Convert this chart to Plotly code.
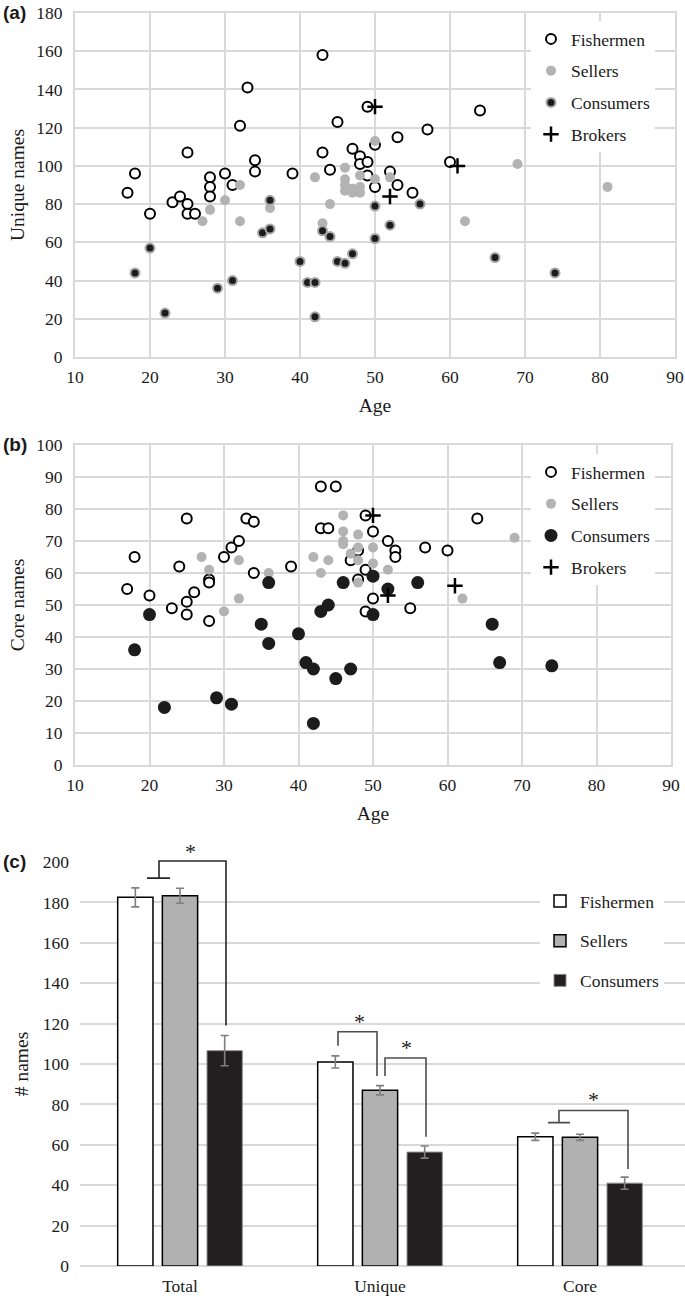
import plotly.graph_objects as go

W, H = 685, 1297

# ---------------- Panel (a): unique names vs age ----------------
fish_a_age = [17, 18, 20, 23, 24, 25, 25, 25, 26, 28, 28, 28, 30, 31, 32, 33, 34, 34, 39, 43,
              43, 44, 45, 47, 48, 48, 49, 49, 49, 50, 50, 52, 53, 53, 55, 57, 60, 64]
fish_a_val = [86, 96, 75, 81, 84, 107, 80, 75, 75, 94, 89, 84, 96, 90, 121, 141, 103, 97, 96, 158,
              107, 98, 123, 109, 105, 101, 102, 131, 95, 111, 89, 97, 115, 90, 86, 119, 102, 129]
sell_a_age = [27, 28, 30, 32, 32, 36, 42, 43, 44, 46, 46, 46, 46, 47, 47, 48, 48, 48, 50, 50,
              52, 62, 69, 81]
sell_a_val = [71, 77, 82, 90, 71, 78, 94, 70, 80, 99, 93, 90, 87, 88, 86, 95, 89, 86, 93, 113,
              94, 71, 101, 89]
cons_a_age = [18, 20, 22, 29, 31, 35, 36, 36, 40, 41, 42, 42, 43, 44, 45, 46, 47, 50, 50, 52,
              56, 66, 74]
cons_a_val = [44, 57, 23, 36, 40, 65, 67, 82, 50, 39, 39, 21, 66, 63, 50, 49, 54, 79, 62, 69,
              80, 52, 44]
brok_a_age = [50, 52, 61]
brok_a_val = [131, 84, 100]

# ---------------- Panel (b): core names vs age ----------------
fish_b_age = [17, 18, 20, 23, 24, 25, 25, 25, 26, 28, 28, 28, 30, 31, 32, 33, 34, 34, 39, 43,
              45, 43, 44, 47, 48, 48, 49, 49, 49, 50, 50, 52, 53, 53, 55, 57, 60, 64]
fish_b_val = [55, 65, 53, 49, 62, 77, 51, 47, 54, 58, 57, 45, 65, 68, 70, 77, 76, 60, 62, 87,
              87, 74, 74, 64, 67, 58, 78, 61, 48, 73, 52, 70, 67, 65, 49, 68, 67, 77]
sell_b_age = [27, 28, 30, 32, 32, 36, 42, 43, 44, 46, 46, 46, 46, 47, 48, 48, 48, 48, 50, 50,
              52, 62, 69]
sell_b_val = [65, 61, 48, 64, 52, 60, 65, 60, 64, 78, 73, 70, 69, 66, 72, 68, 64, 57, 68, 63,
              61, 52, 71]
cons_b_age = [18, 20, 22, 29, 31, 35, 36, 36, 40, 41, 42, 42, 43, 44, 45, 46, 47, 50, 50, 52,
              56, 66, 67, 74]
cons_b_val = [36, 47, 18, 21, 19, 44, 57, 38, 41, 32, 30, 13, 48, 50, 27, 57, 30, 59, 47, 55,
              57, 44, 32, 31]
brok_b_age = [50, 52, 61]
brok_b_val = [78, 53, 56]

# ---------------- Panel (c): mean number of names ----------------
bar_cats = ["Total", "Unique", "Core"]
fish_mean = [182.5, 101, 64]
fish_err = [4.7, 3, 1.8]
sell_mean = [183.3, 87, 63.7]
sell_err = [3.7, 2.3, 1.5]
cons_mean = [106.6, 56.4, 41]
cons_err = [7.5, 3, 3]

# significance brackets (x in category units, y in # names)
brackets = [
    [[(-0.165, 192), (-0.05, 192)], [(-0.105, 192), (-0.105, 200.5), (0.23, 200.5), (0.23, 119)]],
    [[(0.79, 109), (0.79, 116), (0.985, 116), (0.985, 94)]],
    [[(1.025, 94), (1.025, 103), (1.23, 103), (1.23, 64)]],
    [[(1.84, 71), (1.95, 71)], [(1.895, 71), (1.895, 77), (2.24, 77), (2.24, 48)]],
]
bracket_colors = ["#262626", "#4d4d4d", "#4d4d4d", "#4d4d4d"]
star_x = [0.05, 0.895, 1.13, 2.065]
star_y = [200, 116, 103, 77]   # tops of the brackets the stars sit on

SERIF = "Liberation Serif"
GRID = "#d9d9d9"
GRAY = "#b3b3b3"
DARK = "#1c1c1c"

fig = go.Figure()


def scatter_panel(xa, ya, leg, fa, fv, sa, sv, ca, cv, ba, bv, cons_marker):
    common = dict(mode="markers", xaxis=xa, yaxis=ya, legend=leg)
    fig.add_trace(go.Scatter(x=fa, y=fv, name="Fishermen", legendgroup=leg + "f",
                             marker=dict(symbol="circle", size=10, color="white",
                                         line=dict(color="black", width=2)), **common))
    fig.add_trace(go.Scatter(x=sa, y=sv, name="Sellers", legendgroup=leg + "s",
                             marker=dict(symbol="circle", size=10, color=GRAY,
                                         line=dict(width=0)), **common))
    fig.add_trace(go.Scatter(x=ca, y=cv, name="Consumers", legendgroup=leg + "c",
                             marker=cons_marker, **common))
    fig.add_trace(go.Scatter(x=ba, y=bv, name="Brokers", legendgroup=leg + "b",
                             marker=dict(symbol="cross-thin", size=11,
                                         line=dict(color="black", width=2.5)), **common))


scatter_panel("x", "y", "legend", fish_a_age, fish_a_val, sell_a_age, sell_a_val,
              cons_a_age, cons_a_val, brok_a_age, brok_a_val,
              dict(symbol="circle", size=9, color=DARK, line=dict(color="#a6a6a6", width=2)))
scatter_panel("x2", "y2", "legend2", fish_b_age, fish_b_val, sell_b_age, sell_b_val,
              cons_b_age, cons_b_val, brok_b_age, brok_b_val,
              dict(symbol="circle", size=13, color=DARK, line=dict(width=0)))

bar_x = list(range(len(bar_cats)))
err_style = dict(type="data", color="#7f7f7f", thickness=1.6, width=4)
fig.add_trace(go.Bar(x=bar_x, y=fish_mean, name="Fishermen", xaxis="x3", yaxis="y3",
                     legend="legend3", legendgroup="cf",
                     marker=dict(color="white", line=dict(color="black", width=1.5)),
                     error_y=dict(array=fish_err, **err_style)))
fig.add_trace(go.Bar(x=bar_x, y=sell_mean, name="Sellers", xaxis="x3", yaxis="y3",
                     legend="legend3", legendgroup="cs",
                     marker=dict(color="#b1b1b1", line=dict(color="black", width=1.5)),
                     error_y=dict(array=sell_err, **err_style)))
fig.add_trace(go.Bar(x=bar_x, y=cons_mean, name="Consumers", xaxis="x3", yaxis="y3",
                     legend="legend3", legendgroup="cc",
                     marker=dict(color="#231f20", line=dict(color="#8c8c8c", width=1)),
                     error_y=dict(array=cons_err, **err_style)))


def dom_x(a, b):
    return [a / W, b / W]


def dom_y(top, bot):
    return [1 - bot / H, 1 - top / H]


Y3MAX = 200
Y3DOM = dom_y(862, 1266)

shapes = []
for segs, col in zip(brackets, bracket_colors):
    path = ""
    for seg in segs:
        for i, (bx, by) in enumerate(seg):
            path += ("M" if i == 0 else "L") + f"{bx},{by / Y3MAX} "
    shapes.append(dict(type="path", path=path.strip(), xref="x3", yref="y3 domain",
                       line=dict(color=col, width=1.6), layer="above"))

annotations = []
for sx, sy in zip(star_x, star_y):
    annotations.append(dict(x=sx, y=sy, xref="x3", yref="y3", text="*",
                            showarrow=False, yanchor="bottom", yshift=-4,
                            font=dict(family=SERIF, size=22, color="#1a1a1a")))
for lbl, ypx in [("(a)", 13), ("(b)", 445), ("(c)", 862)]:
    annotations.append(dict(x=1 / W, y=1 - ypx / H, xref="paper", yref="paper", text="<b>" + lbl + "</b>",
                            showarrow=False, xanchor="left", yanchor="middle",
                            font=dict(family="Liberation Sans", size=19, color="#1a1a1a")))

tickfont = dict(family=SERIF, size=17.5, color="#1a1a1a")
titlefont = dict(family=SERIF, size=19.5, color="#1a1a1a")

scat_x = dict(range=[10, 90], dtick=10, showgrid=True, gridcolor=GRID, gridwidth=2,
              showline=True, linecolor=GRID, linewidth=2, mirror=True, zeroline=False,
              ticks="", tickfont=tickfont, ticklabelstandoff=3, fixedrange=True)
scat_y = dict(showgrid=True, gridcolor=GRID, gridwidth=2, showline=True, linecolor=GRID,
              linewidth=2, mirror=True, zeroline=False, ticks="", tickfont=tickfont,
              ticklabelstandoff=7, fixedrange=True)

legend_common = dict(bgcolor="white", borderwidth=0, font=dict(family=SERIF, size=17.5, color="#1a1a1a"),
                     xanchor="left", yanchor="top", tracegroupgap=6, itemwidth=30)

fig.update_layout(
    width=W, height=H, margin=dict(l=0, r=0, t=0, b=0, autoexpand=False),
    paper_bgcolor="white", plot_bgcolor="white",
    barmode="group", bargap=0.33, bargroupgap=0.21,
    showlegend=True,
    xaxis=dict(domain=dom_x(75, 675), anchor="y",
               title=dict(text="Age", font=titlefont, standoff=12), **scat_x),
    yaxis=dict(domain=dom_y(13, 357), anchor="x", range=[0, 180], dtick=20,
               title=dict(text="Unique names", font=titlefont, standoff=6), **scat_y),
    xaxis2=dict(domain=dom_x(75, 671), anchor="y2",
                title=dict(text="Age", font=titlefont, standoff=12), **scat_x),
    yaxis2=dict(domain=dom_y(445, 765), anchor="x2", range=[0, 100], dtick=10,
                title=dict(text="Core names", font=titlefont, standoff=6), **scat_y),
    xaxis3=dict(domain=dom_x(80, 685), anchor="y3", range=[-0.5, 2.525],
                tickvals=bar_x, ticktext=bar_cats, showgrid=False, showline=False,
                zeroline=False, ticks="", tickfont=tickfont, ticklabelstandoff=7, fixedrange=True),
    yaxis3=dict(domain=Y3DOM, anchor="x3", range=[0, Y3MAX], dtick=20,
                showgrid=True, gridcolor=GRID, gridwidth=2, showline=False, zeroline=True,
                zerolinecolor=GRID, zerolinewidth=2, ticks="", tickfont=tickfont,
                ticklabelstandoff=10, fixedrange=True,
                title=dict(text="# names", font=titlefont, standoff=8)),
    legend=dict(x=531 / W, y=1 - 21 / H, **legend_common),
    legend2=dict(x=531 / W, y=1 - 454 / H, **legend_common),
    legend3=dict(x=540 / W, y=1 - 883 / H, **{**legend_common, "tracegroupgap": 14}),
    shapes=shapes,
    annotations=annotations,
)

fig.write_html("out.html", config={"displayModeBar": False},
               post_script="document.body.style.margin='0px';document.body.style.overflow='hidden';")
